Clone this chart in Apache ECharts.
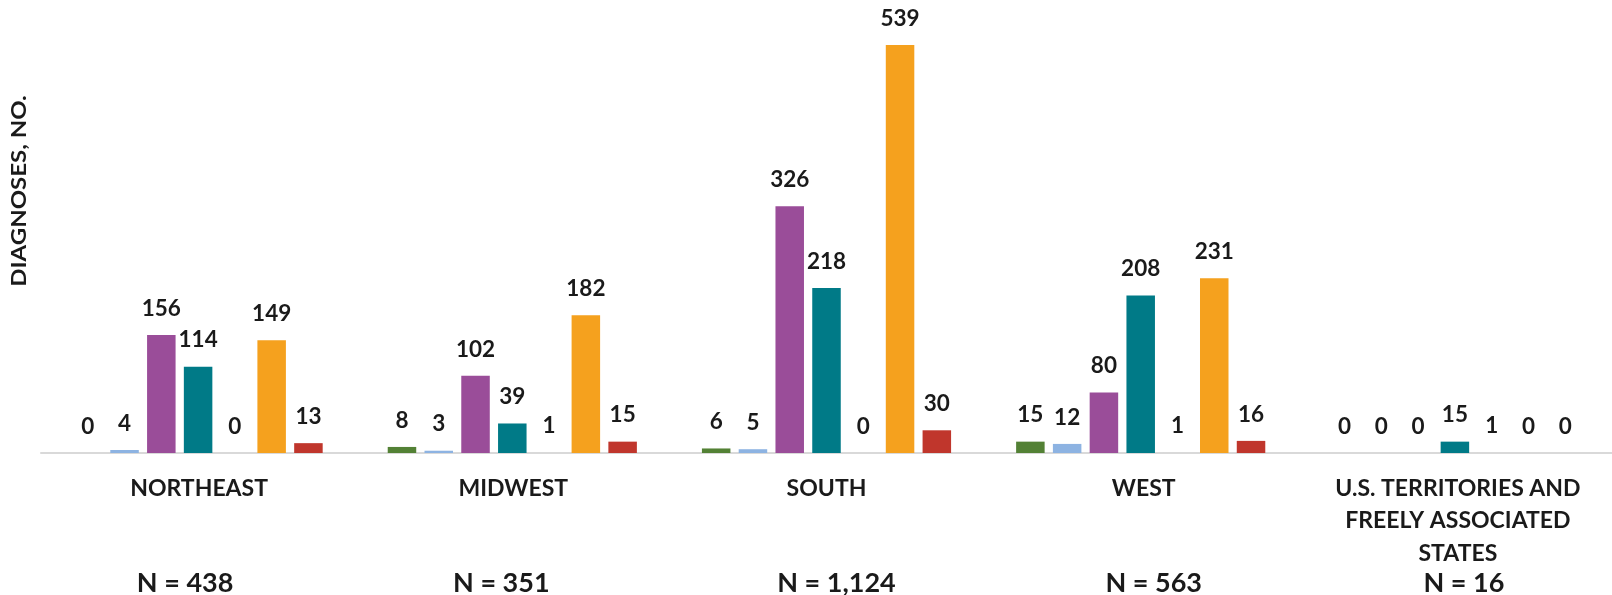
<!DOCTYPE html>
<html><head><meta charset="utf-8">
<script src="https://cdn.jsdelivr.net/npm/echarts@6/dist/echarts.min.js"></script>
<style>html,body{margin:0;padding:0;background:#fff}#c{width:1612px;height:595px}</style>
</head><body><div id="c"></div>
<script>
const categories = ['NORTHEAST', 'MIDWEST', 'SOUTH', 'WEST', 'U.S. TERRITORIES AND\nFREELY ASSOCIATED\nSTATES'];
const nLabels = ['N = 438', 'N = 351', 'N = 1,124', 'N = 563', 'N = 16'];
const yAxisTitle = 'DIAGNOSES, NO.';
const seriesNames = ['Series 1', 'Series 2', 'Series 3', 'Series 4', 'Series 5', 'Series 6', 'Series 7'];
const series1 = [0, 8, 6, 15, 0];
const series2 = [4, 3, 5, 12, 0];
const series3 = [156, 102, 326, 80, 0];
const series4 = [114, 39, 218, 208, 15];
const series5 = [0, 1, 0, 1, 1];
const series6 = [149, 182, 539, 231, 0];
const series7 = [13, 15, 30, 16, 0];

const colors = ['#538135', '#8DB3E2', '#9A4D99', '#007A87', '#D9D9D9', '#F5A11E', '#C0362C'];
const allSeries = [series1, series2, series3, series4, series5, series6, series7];
const FONT = 'Lato';
const TXT = '#1A1A1A';
// horizontal nudges of the text boxes (layout only)
const catDx = [1, 1, 0, 3, 3];
const nDx = [-13, -11, 10, 13, 9];

const rich = {};
catDx.forEach((dx, i) => {
  rich['c' + i] = {
    fontFamily: FONT, fontWeight: 'bold', fontSize: 23, color: TXT, lineHeight: 32.5,
    padding: dx < 0 ? [0, -2 * dx, 0, 0] : [0, 0, 0, 2 * dx]
  };
});

const chart = echarts.init(document.getElementById('c'));
chart.setOption({
  animation: false,
  grid: { left: 41, right: 0, top: 45, bottom: 142 },
  xAxis: {
    type: 'category',
    data: categories,
    axisTick: { show: false },
    axisLine: { lineStyle: { color: '#D9D9D9', width: 2 } },
    axisLabel: {
      interval: 0, margin: 19,
      fontFamily: FONT, fontWeight: 'bold', fontSize: 23, color: TXT, lineHeight: 32.5,
      formatter: (v, i) => v.split('\n').map(l => '{c' + i + '|' + l + '}').join('\n'),
      rich: rich
    }
  },
  yAxis: { type: 'value', min: 0, max: 539, show: false, splitLine: { show: false } },
  series: allSeries.map((d, k) => ({
    type: 'bar',
    name: seriesNames[k],
    data: d,
    barGap: '29%',
    barCategoryGap: '20.7%',
    itemStyle: { color: colors[k] },
    label: {
      show: true, position: 'top', distance: 15,
      fontFamily: FONT, fontWeight: 'bold', fontSize: 22.5, color: TXT
    }
  }))
});

const g = [];
nLabels.forEach((t, i) => {
  const x = chart.convertToPixel({ xAxisIndex: 0 }, i);
  g.push({
    type: 'text', x: x + nDx[i], y: 583,
    style: { text: t, fontFamily: FONT, fontWeight: 'bold', fontSize: 27, fill: TXT, textAlign: 'center', textVerticalAlign: 'middle' }
  });
});
g.push({
  type: 'text', x: 19.5, y: 191, rotation: Math.PI / 2, scaleX: 1.2,
  style: { text: yAxisTitle, fontFamily: FONT, fontWeight: 'bold', fontSize: 20, fill: TXT, textAlign: 'center', textVerticalAlign: 'middle' }
});
chart.setOption({ graphic: g });
</script>
</body></html>
